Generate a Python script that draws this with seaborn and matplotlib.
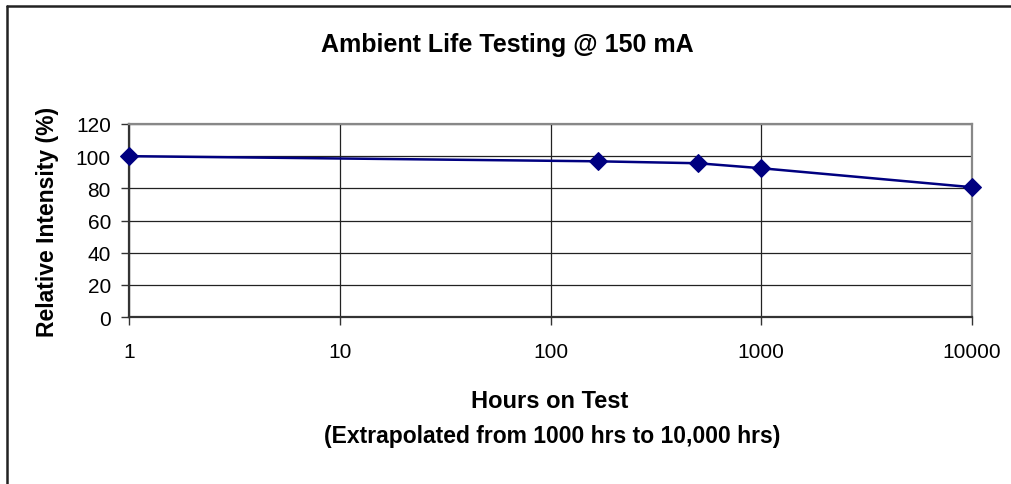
import matplotlib
matplotlib.use("Agg")
import matplotlib.pyplot as plt
import seaborn as sns
import pandas as pd
from matplotlib.lines import Line2D

hours = [1, 168, 500, 1000, 10000]
intensity = [100, 96.8, 95.6, 92.5, 80.7]
x_ticks = [1, 10, 100, 1000, 10000]
x_tick_labels = ["1", "10", "100", "1000", "10000"]
y_ticks = [0, 20, 40, 60, 80, 100, 120]

title = "Ambient Life Testing @ 150 mA"
xlabel_1 = "Hours on Test"
xlabel_2 = "(Extrapolated from 1000 hrs to 10,000 hrs)"
ylabel = "Relative Intensity (%)"

sns.set_theme(style="white")
plt.rcParams["font.family"] = ["Liberation Sans", "DejaVu Sans"]
plt.rcParams["text.color"] = "black"
plt.rcParams["axes.labelcolor"] = "black"

df = pd.DataFrame({"hours": hours, "intensity": intensity})

fig = plt.figure(figsize=(10.12, 4.85), dpi=100)
ax = fig.add_axes([129 / 1012, 1 - 318 / 485, (972 - 129) / 1012, (318 - 125) / 485])

sns.lineplot(data=df, x="hours", y="intensity", ax=ax, color="#000080",
             marker="D", markersize=9, linewidth=1.8, markeredgecolor="#000080",
             clip_on=False, zorder=5)

ax.set_xscale("log")
ax.set_xlim(1, 10000)
ax.set_ylim(0, 120)
ax.set_xticks(x_ticks)
ax.set_xticklabels(x_tick_labels)
ax.xaxis.set_minor_locator(matplotlib.ticker.NullLocator())
ax.set_yticks(y_ticks)
ax.tick_params(axis="both", which="major", labelsize=15, direction="out",
               length=6, width=1, color="#333333", labelcolor="black", bottom=True, left=True)
ax.tick_params(axis="x", pad=12)
ax.tick_params(axis="y", pad=7)

ax.grid(True, which="major", color="#222222", linewidth=0.9)
ax.set_axisbelow(True)

for s in ["left", "bottom"]:
    ax.spines[s].set_color("#333333")
    ax.spines[s].set_linewidth(1.6)
for s in ["top", "right"]:
    ax.spines[s].set_color("#888888")
    ax.spines[s].set_linewidth(1.6)

ax.set_xlabel("")
ax.set_ylabel(ylabel, fontsize=16.5, fontweight="bold", labelpad=12)

fig.text(507 / 1012, 1 - 45 / 485, title, ha="center", va="center",
         fontsize=18, fontweight="bold")
fig.text(550 / 1012, 1 - 402 / 485, xlabel_1, ha="center", va="center",
         fontsize=17, fontweight="bold")
fig.text(552 / 1012, 1 - 437 / 485, xlabel_2, ha="center", va="center",
         fontsize=16.5, fontweight="bold")

# figure border (left and top visible)
fig.add_artist(Line2D([7 / 1012, 7 / 1012], [0, 1 - 7 / 485], transform=fig.transFigure,
                      color="#222222", linewidth=1.8))
fig.add_artist(Line2D([7 / 1012, 1], [1 - 7 / 485, 1 - 7 / 485], transform=fig.transFigure,
                      color="#222222", linewidth=1.8))

fig.savefig("out.png", dpi=100)
